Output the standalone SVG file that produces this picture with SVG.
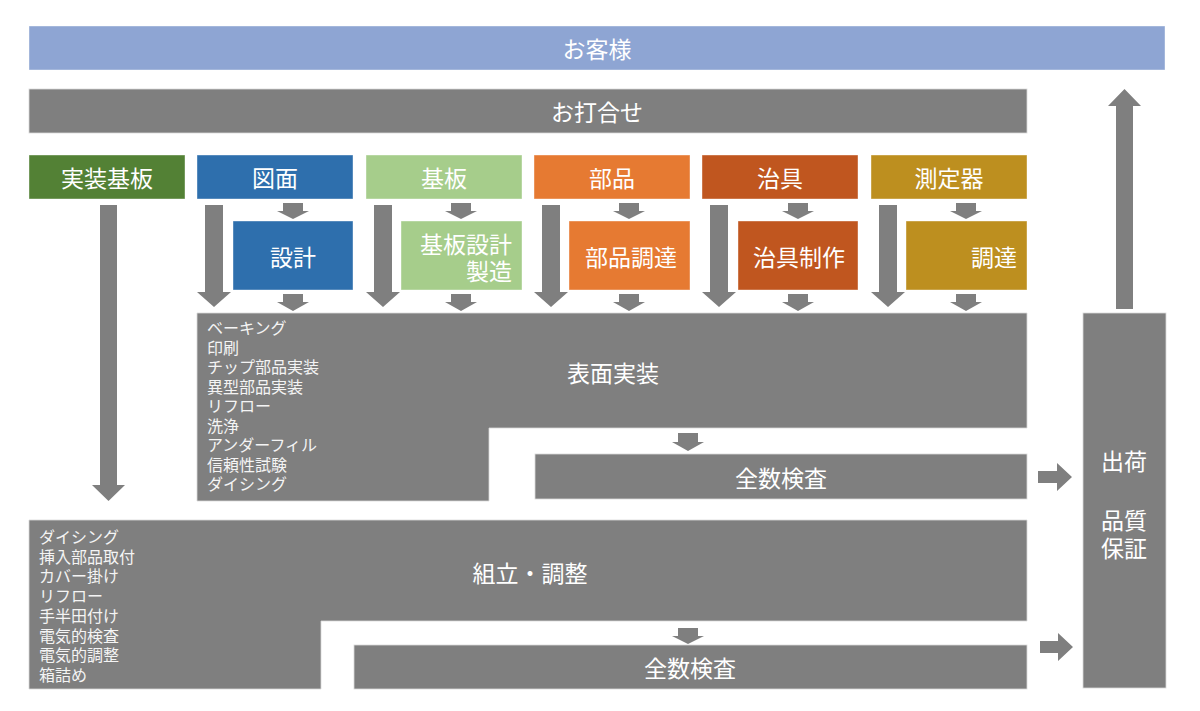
<svg xmlns="http://www.w3.org/2000/svg" width="1200" height="711" viewBox="0 0 1200 711">
<style>
text{font-family:"Noto Sans CJK JP","Noto Sans",sans-serif;fill:#ffffff;dominant-baseline:central}
.lbl{font-size:23px;text-anchor:middle}
.end{text-anchor:end}
.lst{font-size:16px;fill:#f4f4f4}
.gray{fill:#7f7f7f;stroke:#d9d9d9;stroke-width:0.8}
.box{stroke:#ffffff;stroke-opacity:0.5;stroke-width:0.8}
.arr{fill:#7f7f7f}
</style>
<rect width="1200" height="711" fill="#ffffff"/>
<g id="customer"><rect x="29" y="26" width="1136" height="44" fill="#8ea5d3" class="box"/><text class="lbl" x="597" y="48">お客様</text></g>
<g id="meeting"><rect x="29" y="89" width="998" height="44" class="gray"/><text class="lbl" x="597" y="111">お打合せ</text></g>
<g id="board-top"><rect x="29" y="155" width="156" height="44" fill="#538135" class="box"/><text class="lbl" x="107" y="177">実装基板</text></g>
<g id="drawing"><rect x="197" y="155" width="156" height="44" fill="#2e6fad" class="box"/><text class="lbl" x="275" y="177">図面</text></g>
<g id="pcb"><rect x="366" y="155" width="156" height="44" fill="#a6cd8b" class="box"/><text class="lbl" x="444" y="177">基板</text></g>
<g id="parts"><rect x="534" y="155" width="156" height="44" fill="#e67a32" class="box"/><text class="lbl" x="612" y="177">部品</text></g>
<g id="jig"><rect x="702" y="155" width="156" height="44" fill="#c0561f" class="box"/><text class="lbl" x="780" y="177">治具</text></g>
<g id="meter"><rect x="871" y="155" width="156" height="44" fill="#bd8f1f" class="box"/><text class="lbl" x="949" y="177">測定器</text></g>
<g id="design"><rect x="233" y="221" width="120" height="69" fill="#2e6fad" class="box"/><text class="lbl" x="293" y="256">設計</text></g>
<g id="pcb-make"><rect x="401" y="221" width="121" height="69" fill="#a6cd8b" class="box"/><text class="lbl end" x="512" y="243">基板設計</text><text class="lbl end" x="512" y="270">製造</text></g>
<g id="parts-buy"><rect x="569" y="221" width="121" height="69" fill="#e67a32" class="box"/><text class="lbl" x="631" y="256">部品調達</text></g>
<g id="jig-make"><rect x="738" y="221" width="120" height="69" fill="#c0561f" class="box"/><text class="lbl" x="799" y="256">治具制作</text></g>
<g id="meter-buy"><rect x="906" y="221" width="121" height="69" fill="#bd8f1f" class="box"/><text class="lbl end" x="1017" y="256">調達</text></g>
<g id="smt">
<path class="gray" d="M197 313H1027V428H489V501H197Z"/>
<text class="lbl" x="613" y="372">表面実装</text>
<text class="lst" x="207" y="327">ベーキング</text>
<text class="lst" x="207" y="346.5">印刷</text>
<text class="lst" x="207" y="366">チップ部品実装</text>
<text class="lst" x="207" y="385.5">異型部品実装</text>
<text class="lst" x="207" y="405">リフロー</text>
<text class="lst" x="207" y="424.5">洗浄</text>
<text class="lst" x="207" y="444">アンダーフィル</text>
<text class="lst" x="207" y="463.5">信頼性試験</text>
<text class="lst" x="207" y="483">ダイシング</text>
</g>
<g id="inspect1"><rect x="535" y="454" width="492" height="45" class="gray"/><text class="lbl" x="781" y="477">全数検査</text></g>
<g id="assembly">
<path class="gray" d="M29 520H1027V621H321V689H29Z"/>
<text class="lbl" x="530" y="572">組立・調整</text>
<text class="lst" x="39" y="536">ダイシング</text>
<text class="lst" x="39" y="555.7">挿入部品取付</text>
<text class="lst" x="39" y="575.4">カバー掛け</text>
<text class="lst" x="39" y="595.1">リフロー</text>
<text class="lst" x="39" y="614.8">手半田付け</text>
<text class="lst" x="39" y="634.5">電気的検査</text>
<text class="lst" x="39" y="654.2">電気的調整</text>
<text class="lst" x="39" y="673.9">箱詰め</text>
</g>
<g id="inspect2"><rect x="354" y="645" width="673" height="44" class="gray"/><text class="lbl" x="690" y="667">全数検査</text></g>
<g id="shipping"><rect x="1083" y="313" width="83" height="375" class="gray"/><text class="lbl" x="1124" y="460">出荷</text><text class="lbl" x="1124" y="519">品質</text><text class="lbl" x="1124" y="547">保証</text></g>
<g id="connectors" class="arr">
<path d="M100 205H117V485H125L108.5 501L92 485H100Z"/>
<path d="M205 205H223V292H231L214 307L197 292H205Z"/>
<path d="M374 205H392V292H400L383 307L366 292H374Z"/>
<path d="M542 205H560V292H568L551 307L534 292H542Z"/>
<path d="M710 205H728V292H736L719 307L702 292H710Z"/>
<path d="M879 205H897V292H905L888 307L871 292H879Z"/>
<path d="M283 203H303V211H309L293 219L277 211H283Z"/>
<path d="M451 203H471V211H477L461 219L445 211H451Z"/>
<path d="M619 203H639V211H645L629 219L613 211H619Z"/>
<path d="M788 203H808V211H814L798 219L782 211H788Z"/>
<path d="M956 203H976V211H982L966 219L950 211H956Z"/>
<path d="M283 294H303V302H309L293 311L277 302H283Z"/>
<path d="M451 294H471V302H477L461 311L445 302H451Z"/>
<path d="M619 294H639V302H645L629 311L613 302H619Z"/>
<path d="M788 294H808V302H814L798 311L782 302H788Z"/>
<path d="M956 294H976V302H982L966 311L950 302H956Z"/>
<path d="M678 433H698V442H704L688 451L672 442H678Z"/>
<path d="M678 628H698V636H704L688 644L672 636H678Z"/>
<path d="M1038 471H1057V463L1072 477L1057 491V483H1038Z"/>
<path d="M1040 641H1058V633L1073 647L1058 661V653H1040Z"/>
<path d="M1116 309V106H1108L1124.5 89L1141 106H1133V309Z"/>
</g>
</svg>
